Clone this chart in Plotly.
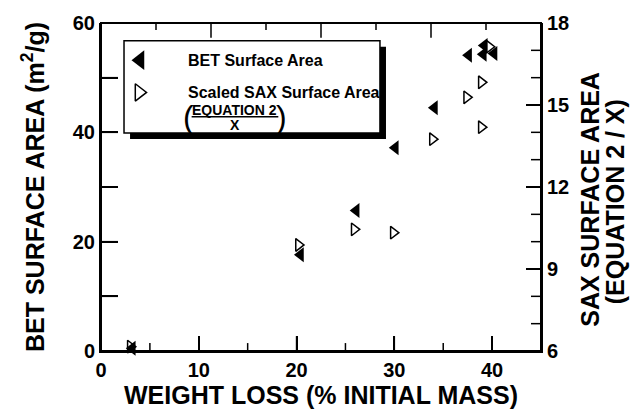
import plotly.graph_objects as go

# ---- data ----
bet_x = [3.2, 20.4, 26.1, 30.1, 34.1, 37.6, 39.2, 39.1, 40.2]
bet_y = [0.5, 17.6, 25.7, 37.2, 44.5, 54.1, 55.9, 54.3, 54.4]

sax_x = [3.0, 20.2, 25.9, 29.9, 33.9, 37.4, 38.9, 38.9, 39.7]
sax_y = [6.16, 9.88, 10.45, 10.33, 13.75, 15.28, 15.83, 14.19, 17.13]

x_ticks = [0, 10, 20, 30, 40]
x_minor = [5, 15, 25, 35]
top_major = [2, 4, 6]
top_minor = [1, 3, 5, 7]
y_left_ticks = [0, 10, 20, 30, 40, 50, 60]
y_left_labels = ["0", "", "20", "", "40", "", "60"]
y_right_ticks = [6, 9, 12, 15, 18]
y_right_minor = [7, 8, 10, 11, 13, 14, 16, 17]

X_RANGE = [0, 45]
TOP_RANGE = [0, 8]
YL_RANGE = [0, 60]
YR_RANGE = [6, 18]

FONT = "Liberation Sans, Arial, Helvetica, sans-serif"
BLACK = "#000000"
PW, PH = 440.0, 331.0   # plot-area size in px (for tick lengths)

fig = go.Figure()

fig.add_trace(go.Scatter(
    x=bet_x, y=bet_y, mode="markers", xaxis="x", yaxis="y",
    marker=dict(symbol="triangle-left", size=13, color=BLACK),
    cliponaxis=False, showlegend=False, name="BET Surface Area"))

fig.add_trace(go.Scatter(
    x=sax_x, y=sax_y, mode="markers", xaxis="x", yaxis="y2",
    marker=dict(symbol="triangle-right-open", size=11, color=BLACK,
                line=dict(width=1.5, color=BLACK)),
    cliponaxis=False, showlegend=False, name="Scaled SAX Surface Area"))

# legend symbols
fig.add_trace(go.Scatter(
    x=[3.99], y=[53.2], xaxis="x", yaxis="y", mode="markers",
    marker=dict(symbol="triangle-left", size=17, color=BLACK),
    cliponaxis=False, showlegend=False, hoverinfo="skip"))
fig.add_trace(go.Scatter(
    x=[3.89], y=[47.3], xaxis="x", yaxis="y", mode="markers",
    marker=dict(symbol="triangle-right-open", size=15, color=BLACK,
                line=dict(width=1.5, color=BLACK)),
    cliponaxis=False, showlegend=False, hoverinfo="skip"))

tickfont = dict(family=FONT, size=20, color=BLACK)
common = dict(ticks="inside", tickwidth=1.5, tickcolor=BLACK, showgrid=False,
              zeroline=False, linecolor=BLACK, linewidth=2)

fig.update_layout(
    width=631, height=410,
    margin=dict(l=101, r=90, t=20, b=59),
    paper_bgcolor="white", plot_bgcolor="white",
    font=dict(family=FONT, color=BLACK),
    showlegend=False,
    xaxis=dict(range=X_RANGE, tickvals=x_ticks,
               ticktext=[f"<b>{v}</b>" for v in x_ticks], ticklen=15,
               showline=True, tickfont=tickfont, **common),
    yaxis=dict(side="left", anchor="x", range=YL_RANGE, tickvals=y_left_ticks,
               ticktext=[f"<b>{t}</b>" if t else "" for t in y_left_labels],
               ticklen=17, showline=True, tickfont=tickfont, **common),
    yaxis2=dict(overlaying="y", side="right", anchor="x", range=YR_RANGE,
                tickvals=y_right_ticks,
                ticktext=[f"<b>{v}</b>" for v in y_right_ticks],
                ticklen=15, showline=True, tickfont=tickfont, **common),
)

def frac(v, rng):
    return (v - rng[0]) / (rng[1] - rng[0])

TL = dict(color=BLACK, width=1.5)
P = dict(xref="paper", yref="paper")
shapes = [
    # legend shadow + box + fraction bar
    dict(type="rect", x0=0.066, x1=0.6477, y0=0.6466, y1=0.9275,
         fillcolor=BLACK, line=dict(width=0), layer="below", **P),
    dict(type="rect", x0=0.0523, x1=0.634, y0=0.6647, y1=0.9456,
         fillcolor="white", line=dict(width=1.5, color=BLACK), layer="below", **P),
    dict(type="line", x0=0.206, x1=0.403, y0=0.7145, y1=0.7145,
         line=dict(width=1.5, color=BLACK), **P),
    # plot frame
    dict(type="rect", x0=0, x1=1, y0=0, y1=1, line=dict(color=BLACK, width=2), **P),
]
for v in x_ticks[1:]:
    f = frac(v, X_RANGE)
    shapes.append(dict(type="line", x0=f, x1=f, y0=0, y1=15 / PH, line=TL, **P))
for v in x_minor:
    f = frac(v, X_RANGE)
    shapes.append(dict(type="line", x0=f, x1=f, y0=0, y1=8 / PH, line=TL, **P))
for v in top_major:
    f = frac(v, TOP_RANGE)
    shapes.append(dict(type="line", x0=f, x1=f, y0=1, y1=1 - 15 / PH, line=TL, **P))
for v in top_minor:
    f = frac(v, TOP_RANGE)
    shapes.append(dict(type="line", x0=f, x1=f, y0=1, y1=1 - 7 / PH, line=TL, **P))
for v in y_left_ticks[1:-1]:
    f = frac(v, YL_RANGE)
    shapes.append(dict(type="line", x0=0, x1=17 / PW, y0=f, y1=f, line=TL, **P))
for v in y_right_ticks[1:-1]:
    f = frac(v, YR_RANGE)
    shapes.append(dict(type="line", x0=1, x1=1 - 15 / PW, y0=f, y1=f, line=TL, **P))
for v in y_right_minor:
    f = frac(v, YR_RANGE)
    shapes.append(dict(type="line", x0=1, x1=1 - 10 / PW, y0=f, y1=f, line=TL, **P))
fig.update_layout(shapes=shapes)

ann = []
def txt(x, y, s, size, xanchor="left", angle=0, bold=True, yanchor="middle"):
    ann.append(dict(x=x, y=y, xref="paper", yref="paper", text=(f"<b>{s}</b>" if bold else s),
                    showarrow=False, xanchor=xanchor, yanchor=yanchor, textangle=angle,
                    font=dict(family=FONT, size=size, color=BLACK)))

txt(0.1932, 0.8867, "BET Surface Area", 16)
txt(0.1932, 0.7885, "Scaled SAX Surface Area", 16)
txt(0.3045, 0.7362, "EQUATION 2", 14, xanchor="center")
txt(0.3045, 0.6879, "X", 14, xanchor="center")
txt(0.1984, 0.712, "(", 32, xanchor="center", bold=False)
txt(0.4107, 0.712, ")", 32, xanchor="center", bold=False)

txt(0.5, -0.1329, "WEIGHT LOSS (% INITIAL MASS)", 25, xanchor="center")
txt(-0.1545, 0.5, "BET SURFACE AREA (m<sup>2</sup>/g)", 25, xanchor="center", angle=-90)
txt(1.112, 0.462, "SAX SURFACE AREA", 25, xanchor="center", angle=-90)
txt(1.17, 0.456, "(EQUATION 2 / X)", 25, xanchor="center", angle=-90)

fig.update_layout(annotations=ann)

fig.write_html("out.html")
